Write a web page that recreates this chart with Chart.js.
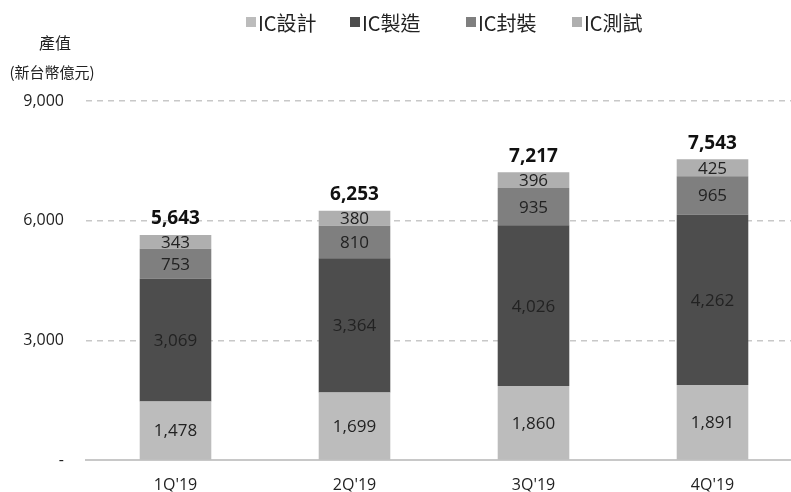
<!DOCTYPE html>
<html lang="zh-Hant">
<head>
    <meta charset="UTF-8">
    <script src="https://cdn.jsdelivr.net/npm/chart.js"></script>
    <title>IC產業產值</title>
    <style>
        html, body {
            margin: 0;
            padding: 0;
            background: #fff;
            overflow: hidden;
        }
        #wrap {
            width: 802px;
            height: 492px;
        }
    </style>
</head>
<body>
    <div id="wrap"><canvas id="icChart"></canvas></div>
    <script>
        const quarters = ['1Q\'19', '2Q\'19', '3Q\'19', '4Q\'19'];
        const design = [1478, 1699, 1860, 1891];
        const manufacturing = [3069, 3364, 4026, 4262];
        const packaging = [753, 810, 935, 965];
        const testing = [343, 380, 396, 425];
        const totals = [5643, 6253, 7217, 7543];
        const yTicks = [0, 3000, 6000, 9000];

        const fontFamily = '"Open Sans", "Noto Sans CJK TC", sans-serif';
        const cjkFont = '"Noto Sans CJK TC", sans-serif';
        const legendX = [246, 350, 466, 572];

        // draws segment values, the totals, the legend and the y-axis caption
        const labelPlugin = {
            id: 'labelPlugin',
            afterDatasetsDraw(chart) {
                const ctx = chart.ctx;
                ctx.save();
                ctx.textAlign = 'center';
                ctx.textBaseline = 'middle';
                ctx.fillStyle = '#222';
                ctx.font = '17px ' + fontFamily;
                chart.data.datasets.forEach((ds, i) => {
                    const meta = chart.getDatasetMeta(i);
                    meta.data.forEach((bar, j) => {
                        const mid = (bar.y + bar.base) / 2;
                        ctx.fillText(ds.data[j].toLocaleString('en-US'), bar.x, mid + 1);
                    });
                });
                const top = chart.getDatasetMeta(chart.data.datasets.length - 1);
                ctx.font = 'bold 19px ' + fontFamily;
                ctx.fillStyle = '#111';
                top.data.forEach((bar, j) => {
                    ctx.fillText(totals[j].toLocaleString('en-US'), bar.x, bar.y - 16);
                });

                // y caption
                ctx.font = '16px ' + cjkFont;
                ctx.fillStyle = '#222';
                ctx.fillText('產值', 55, 43);
                ctx.font = '15px ' + cjkFont;
                ctx.fillText('(新台幣億元)', 52, 72);

                // legend row
                ctx.font = '20px ' + cjkFont;
                ctx.textAlign = 'left';
                chart.data.datasets.forEach((ds, i) => {
                    const x = legendX[i];
                    ctx.fillStyle = ds.backgroundColor;
                    ctx.fillRect(x, 17, 10, 10);
                    ctx.fillStyle = '#222';
                    ctx.fillText(ds.label, x + 12, 23);
                });
                ctx.restore();
            }
        };

        new Chart(document.getElementById('icChart'), {
            type: 'bar',
            data: {
                labels: quarters,
                datasets: [
                    { label: 'IC設計', data: design, backgroundColor: '#bcbcbc' },
                    { label: 'IC製造', data: manufacturing, backgroundColor: '#4d4d4d' },
                    { label: 'IC封裝', data: packaging, backgroundColor: '#7f7f7f' },
                    { label: 'IC測試', data: testing, backgroundColor: '#afafaf' }
                ].map(d => Object.assign(d, { barPercentage: 0.4, categoryPercentage: 1 }))
            },
            options: {
                responsive: true,
                maintainAspectRatio: false,
                animation: false,
                layout: { padding: { top: 101, right: 0, left: 0, bottom: 0 } },
                plugins: {
                    legend: { display: false },
                    tooltip: { enabled: false }
                },
                scales: {
                    x: {
                        stacked: true,
                        grid: { display: false },
                        border: { display: true, color: '#c8c8c8', width: 2 },
                        afterFit(scale) {
                            scale.height = 31;
                        },
                        ticks: { color: '#222', padding: 7, font: { size: 16, family: fontFamily } }
                    },
                    y: {
                        stacked: true,
                        min: 0,
                        max: 9000,
                        afterBuildTicks(scale) {
                            scale.ticks = yTicks.map(v => ({ value: v }));
                        },
                        afterFit(scale) {
                            scale.width = 86;
                            scale.paddingTop = 0;
                        },
                        grid: {
                            drawTicks: false,
                            color: c => (c.tick && c.tick.value === 0) ? 'rgba(0,0,0,0)' : '#c8c8c8',
                            lineWidth: 1.5
                        },
                        border: { display: false, dash: [6, 5] },
                        ticks: {
                            color: '#222',
                            padding: 22,
                            font: { size: 16, family: fontFamily },
                            callback: v => v === 0 ? '-' : v.toLocaleString('en-US')
                        }
                    }
                }
            },
            plugins: [labelPlugin]
        });
    </script>
</body>
</html>
